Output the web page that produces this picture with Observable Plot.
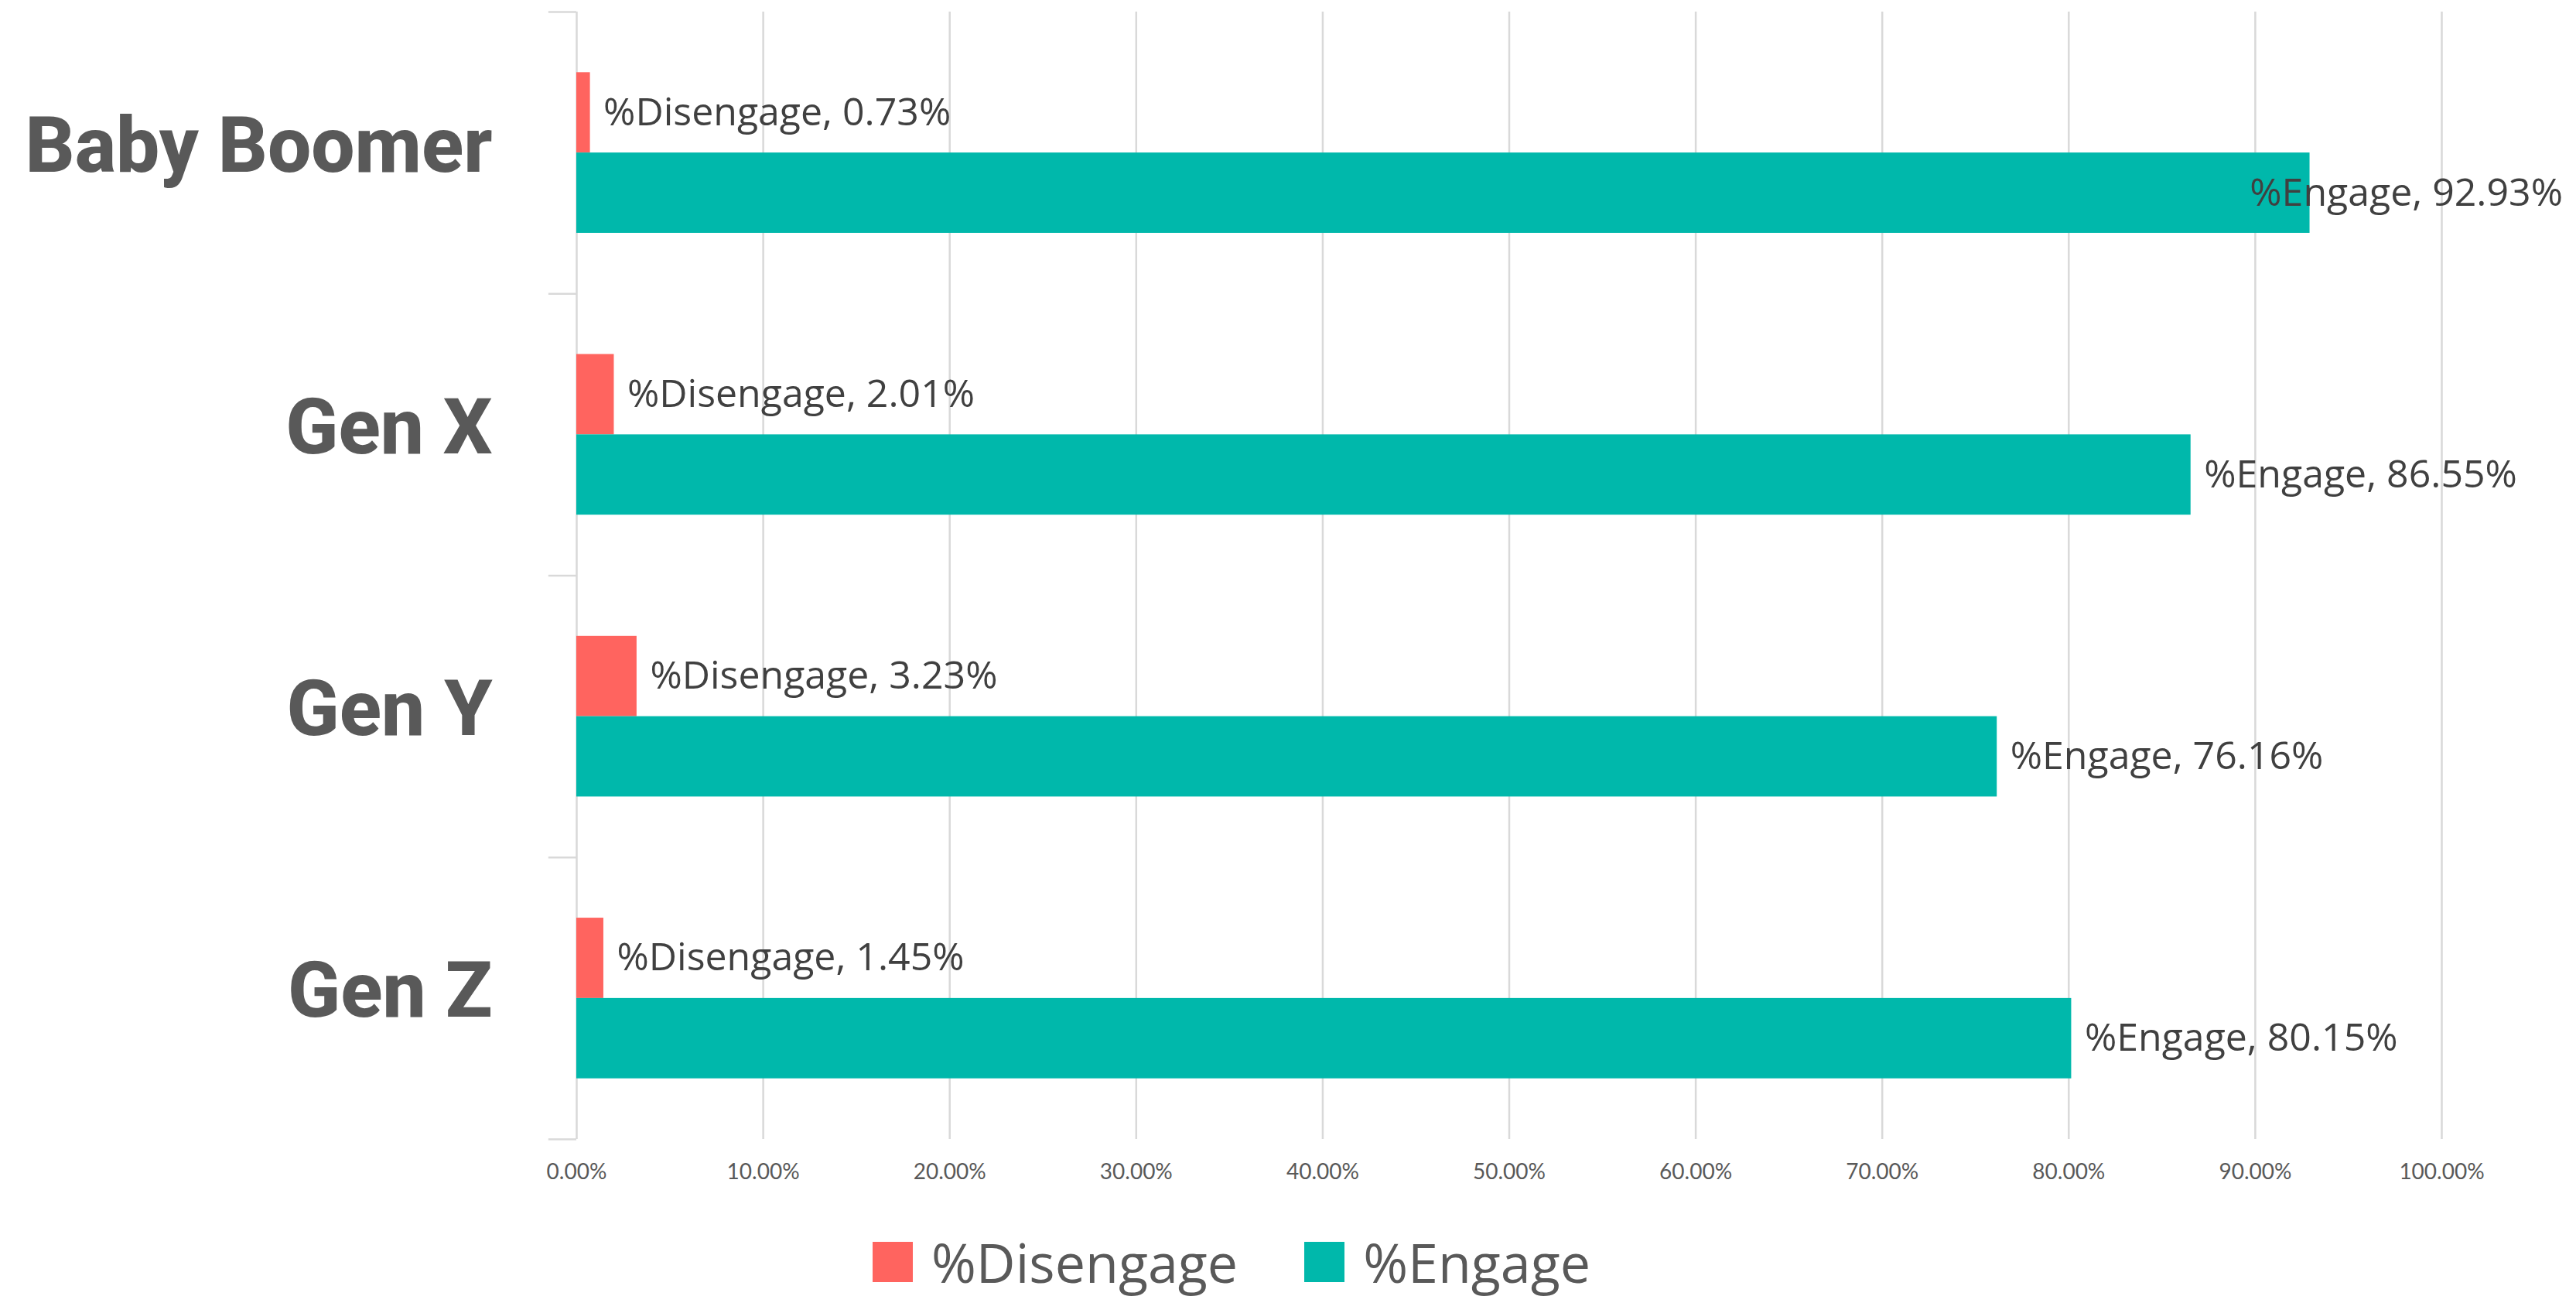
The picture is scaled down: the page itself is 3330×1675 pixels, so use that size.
<!DOCTYPE html>
<html>
<head>
<meta charset="utf-8">
<script src="https://cdn.jsdelivr.net/npm/d3@7"></script>
<script src="https://cdn.jsdelivr.net/npm/@observablehq/plot@0.6"></script>
<style>
  html, body { margin: 0; padding: 0; background: #fff; }
  #wrap { position: relative; width: 3330px; height: 1675px; }
  #legend { position: absolute; top: 1589px; left: 1128px; display: flex; align-items: center;
            font-family: "Open Sans", sans-serif; font-size: 70px; line-height: 1.2; color: #595959; }
  .item { display: flex; align-items: center; margin-right: 86px; }
  .sw { width: 52px; height: 52px; margin-right: 24px; }
</style>
</head>
<body>
<div id="wrap"><div id="chart"></div><div id="legend"></div></div>
<script>
const categories = ["Baby Boomer", "Gen X", "Gen Y", "Gen Z"];
const seriesNames = ["%Disengage", "%Engage"];
const disengage = [0.73, 2.01, 3.23, 1.45];
const engage = [92.93, 86.55, 76.16, 80.15];
const xTicks = [0, 10, 20, 30, 40, 50, 60, 70, 80, 90, 100];
const colors = ["#FF645F", "#00B8AB"];

const barShare = 0.285;      // fraction of a category band per bar
const engageLabelLimit = 89; // label pushed back inside the chart near the edge

const rows = [];
categories.forEach((c, i) => {
  rows.push({cat: c, series: seriesNames[0], value: disengage[i], y1: i + 0.5 - barShare, y2: i + 0.5});
  rows.push({cat: c, series: seriesNames[1], value: engage[i], y1: i + 0.5, y2: i + 0.5 + barShare});
});

const chart = Plot.plot({
  width: 3330,
  height: 1580,
  marginLeft: 745,
  marginRight: 174,
  marginTop: 15,
  marginBottom: 108,
  style: {fontFamily: "Open Sans, sans-serif", background: "#fff"},
  x: {domain: [0, 100]},
  y: {domain: [0, categories.length], reverse: true},
  color: {domain: seriesNames, range: colors},
  marks: [
    Plot.ruleX(xTicks, {stroke: "#d9d9d9", strokeWidth: 2.5}),
    Plot.ruleY(d3.range(categories.length + 1), {x1: -1.5, x2: 0, stroke: "#d9d9d9", strokeWidth: 2.5}),
    Plot.rectX(rows, {x1: 0, x2: "value", y1: "y1", y2: "y2", fill: "series"}),
    Plot.text(rows, {
      x: d => d.series === seriesNames[1] ? Math.min(d.value, engageLabelLimit) : d.value,
      y: d => (d.y1 + d.y2) / 2,
      text: d => `${d.series}, ${d.value.toFixed(2)}%`,
      dx: 17, textAnchor: "start", fontSize: 50, fill: "#404040",
      fontFamily: "Open Sans, sans-serif"
    }),
    Plot.axisX({ticks: xTicks, tickFormat: d => d.toFixed(2) + "%", tickSize: 0, tickPadding: 32,
      fontSize: 28, color: "#595959", fontFamily: "Lato, sans-serif", label: null}),
    Plot.axisY({ticks: categories.map((_, i) => i + 0.5), tickFormat: v => categories[Math.round(v - 0.5)],
      tickSize: 0, tickPadding: 109, dy: -8, fontSize: 100, fontWeight: 800, color: "#595959",
      fontFamily: "Roboto, sans-serif", label: null})
  ]
});
document.getElementById("chart").appendChild(chart);

const legend = document.getElementById("legend");
seriesNames.forEach((s, i) => {
  const it = document.createElement("div");
  it.className = "item";
  const sw = document.createElement("div");
  sw.className = "sw";
  sw.style.background = colors[i];
  const t = document.createElement("span");
  t.textContent = s;
  it.appendChild(sw); it.appendChild(t);
  legend.appendChild(it);
});
</script>
</body>
</html>
